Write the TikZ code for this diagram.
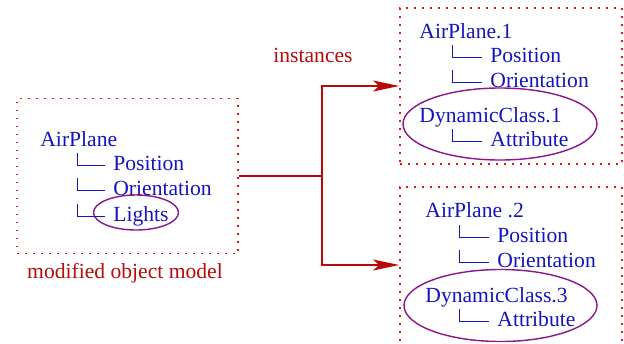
\documentclass[tikz,border=0pt]{standalone}
\usepackage{fontspec}
\setmainfont{Liberation Serif}
\usetikzlibrary{shapes.geometric,arrows.meta}

\definecolor{treeblue}{RGB}{20,20,190}
\definecolor{linkred}{RGB}{185,10,10}
\definecolor{dotred}{RGB}{235,20,20}
\definecolor{ovalpurple}{RGB}{140,20,140}

\begin{document}
\begin{tikzpicture}[x=0.5pt, y=-0.5pt,
		item/.style={anchor=base west, inner sep=1pt, text=treeblue, font=\fontsize{10.8}{13}\selectfont},
		caption/.style={anchor=base, inner sep=1pt, text=linkred, font=\fontsize{10.8}{13}\selectfont},
		modelbox/.style={draw=dotred, line width=0.9pt, dash pattern=on 0.9pt off 3.1pt, inner sep=0pt},
		oval/.style={draw=ovalpurple, ellipse, line width=0.7pt, inner sep=0pt},
		branch/.style={draw=treeblue, line width=0.5pt},
		link/.style={draw=linkred, line width=0.8pt},
		tip/.style={-{Stealth[length=13pt, width=5.5pt, inset=3pt]}}]
	\useasboundingbox (0,0) rectangle (624,343);
	\clip (0,0) rectangle (624,341);

	% boxes
	\node[modelbox, minimum width=110.5pt, minimum height=77.5pt] (model) at (127.5,176) {};
	\node[modelbox, minimum width=111pt, minimum height=78pt] (inst1) at (511,86) {};
	\node[modelbox, minimum width=111pt, minimum height=78pt] (inst2) at (511,265) {};

	% original object model
	\node[item] (ap) at (38,146) {AirPlane};
	\node[item] (pos) at (111,170) {Position};
	\node[item] (ori) at (111,195) {Orientation};
	\node[item] (lig) at (111,221) {Lights};
	\node[oval, minimum width=42.5pt, minimum height=17.5pt] (ligoval) at (136,212.5) {};
	\node[caption] (cap) at (125,278) {modified object model};

	\draw[branch] ([xshift=-3pt,yshift=2.5pt]pos.base west) -| ++(-28,-12);
	\draw[branch] ([xshift=-3pt,yshift=2.5pt]ori.base west) -| ++(-28,-12);
	\draw[branch] ([xshift=-3pt,yshift=2.5pt]lig.base west) -| ++(-28,-12);

	% first instance
	\node[item] (ap1) at (417,38) {AirPlane.1};
	\node[item] (pos1) at (488,62) {Position};
	\node[item] (ori1) at (488,87) {Orientation};
	\node[item] (dyn1) at (417,122) {DynamicClass.1};
	\node[item] (att1) at (488,146) {Attribute};
	\node[oval, minimum width=97pt, minimum height=36pt] (dyn1oval) at (500,124) {};

	\draw[branch] ([xshift=-3pt,yshift=2.5pt]pos1.base west) -| ++(-30,-12);
	\draw[branch] ([xshift=-3pt,yshift=2.5pt]ori1.base west) -| ++(-30,-12);
	\draw[branch] ([xshift=-3pt,yshift=2.5pt]att1.base west) -| ++(-30,-12);

	% second instance
	\node[item] (ap2) at (423,217) {AirPlane .2};
	\node[item] (pos2) at (495,242) {Position};
	\node[item] (ori2) at (495,267) {Orientation};
	\node[item] (dyn2) at (423,302) {DynamicClass.3};
	\node[item] (att2) at (495,326) {Attribute};
	\node[oval, minimum width=96.5pt, minimum height=36pt] (dyn2oval) at (500.5,305.5) {};

	\draw[branch] ([xshift=-3pt,yshift=2.5pt]pos2.base west) -| ++(-30,-12);
	\draw[branch] ([xshift=-3pt,yshift=2.5pt]ori2.base west) -| ++(-30,-12);
	\draw[branch] ([xshift=-3pt,yshift=2.5pt]att2.base west) -| ++(-30,-12);

	% instantiation
	\coordinate (split) at (322,176);
	\node[caption] (inst) at (313,62) {instances};
	\draw[link] (model.east) -- (split);
	\draw[link, tip] (split) |- (inst1.west);
	\draw[link, tip] (split) |- (inst2.west);
\end{tikzpicture}
\end{document}
